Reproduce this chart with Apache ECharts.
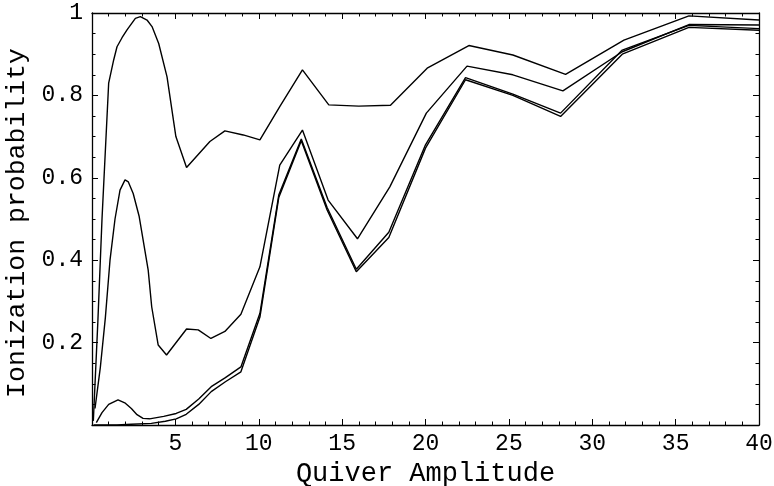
<!DOCTYPE html>
<html><head><meta charset="utf-8">
<script src="https://cdn.jsdelivr.net/npm/echarts@6/dist/echarts.min.js"></script>
<style>html,body{margin:0;padding:0;background:#fff}#c{width:774px;height:486px}</style>
</head><body><div id="c"></div>
<script>
// Curve 1 (top)
const x1 = [0.08, 0.35, 0.6, 1.0, 1.3, 1.5, 1.8, 2.1, 2.6, 2.9, 3.3, 3.6, 4.0, 4.5, 5.03, 5.67, 7.07, 7.97, 9.07, 10.07, 11.26, 12.62, 14.2, 16.0, 17.9, 20.1, 22.6, 25.24, 28.4, 31.9, 35.8, 40];
const y1 = [0.01, 0.25, 0.50, 0.83, 0.886, 0.918, 0.94, 0.959, 0.987, 0.991, 0.983, 0.967, 0.926, 0.845, 0.70, 0.625, 0.688, 0.714, 0.704, 0.692, 0.773, 0.862, 0.777, 0.774, 0.776, 0.866, 0.921, 0.898, 0.851, 0.934, 0.993, 0.983];
// Curve 2
const x2 = [0.18, 0.5, 0.8, 1.08, 1.38, 1.68, 1.98, 2.18, 2.47, 2.83, 3.37, 3.58, 3.97, 4.47, 5.67, 6.37, 7.13, 7.97, 8.93, 10.07, 11.26, 12.62, 14.16, 15.92, 17.86, 20.05, 22.49, 25.24, 28.24, 31.8, 35.8, 40];
const y2 = [0.04, 0.14, 0.26, 0.40, 0.50, 0.57, 0.595, 0.59, 0.562, 0.506, 0.376, 0.287, 0.194, 0.170, 0.233, 0.231, 0.210, 0.227, 0.269, 0.384, 0.631, 0.716, 0.546, 0.452, 0.578, 0.757, 0.871, 0.850, 0.811, 0.906, 0.972, 0.971];
// Curve 3
const x3 = [0.26, 0.6, 1.0, 1.56, 2.0, 2.36, 2.7, 3.06, 3.45, 4.3, 5.05, 5.65, 6.4, 7.15, 8.0, 8.93, 10.07, 11.2, 12.55, 14.1, 15.85, 17.8, 20.0, 22.4, 25.24, 28.1, 31.8, 35.8, 40];
const y3 = [0.006, 0.03, 0.05, 0.061, 0.053, 0.04, 0.025, 0.016, 0.015, 0.021, 0.028, 0.038, 0.063, 0.093, 0.115, 0.141, 0.271, 0.558, 0.694, 0.528, 0.378, 0.468, 0.68, 0.843, 0.803, 0.757, 0.91, 0.97, 0.962];
// Curve 4
const x4 = [0.1, 1.5, 2.36, 3.56, 4.4, 5.05, 5.65, 6.4, 7.15, 8.0, 8.93, 10.07, 11.2, 12.55, 14.1, 15.85, 17.8, 20.0, 22.4, 25.24, 28.1, 31.8, 35.8, 40];
const y4 = [0.0, 0.0, 0.002, 0.004, 0.009, 0.015, 0.026, 0.05, 0.081, 0.105, 0.129, 0.262, 0.552, 0.690, 0.522, 0.372, 0.455, 0.672, 0.838, 0.80, 0.749, 0.90, 0.965, 0.958];

const xTickLabels = ['5','10','15','20','25','30','35','40'];
const yTickLabels = ['0.2','0.4','0.6','0.8','1'];
const xTitle = 'Quiver Amplitude';
const yTitle = 'Ionization probability';

const FONT = 'Liberation Mono';
const pairs = (xs, ys) => xs.map((x, i) => [x, ys[i]]);

const axisCommon = {
  axisLine: {show: true, onZero: false, lineStyle: {color: '#000', width: 1.3}},
  axisTick: {show: true, inside: true, length: 6, lineStyle: {color: '#000', width: 1}},
  splitLine: {show: false}
};
const minorX = {show: true, splitNumber: 5, length: 3.5, lineStyle: {color: '#000', width: 1}};
const minorY = {show: true, splitNumber: 4, length: 3.5, lineStyle: {color: '#000', width: 1}};
const xFmt = v => { const s = String(Math.round(v)); return xTickLabels.includes(s) ? s : ''; };
const yFmt = v => { const s = Math.abs(v - 1) < 1e-9 ? '1' : v.toFixed(1); return yTickLabels.includes(s) ? s : ''; };

const chart = echarts.init(document.getElementById('c'), null, {renderer: 'canvas'});
chart.setOption({
  animation: false,
  backgroundColor: '#fff',
  grid: {left: 92, right: 15, top: 13, bottom: 61, containLabel: false, outerBoundsMode: 'none'},
  xAxis: [
    Object.assign({type: 'value', min: 0, max: 40, interval: 5, position: 'bottom',
      axisLabel: {formatter: xFmt, color: '#000', fontFamily: FONT, fontSize: 23, margin: 7},
      name: xTitle, nameLocation: 'middle', nameGap: 24,
      nameTextStyle: {color: '#000', fontFamily: FONT, fontSize: 27}}, axisCommon, {minorTick: minorX}),
    Object.assign({type: 'value', min: 0, max: 40, interval: 5, position: 'top',
      axisLabel: {show: false}}, axisCommon, {minorTick: minorX})
  ],
  yAxis: [
    Object.assign({type: 'value', min: 0, max: 1, interval: 0.2, position: 'left',
      axisLabel: {formatter: yFmt, color: '#000', fontFamily: FONT, fontSize: 23, margin: 9},
      name: yTitle, nameLocation: 'middle', nameGap: 54, nameRotate: 90,
      nameTextStyle: {color: '#000', fontFamily: FONT, fontSize: 26.5, padding: [0, 8, 0, 0]}}, axisCommon, {minorTick: minorY}),
    Object.assign({type: 'value', min: 0, max: 1, interval: 0.2, position: 'right',
      axisLabel: {show: false}}, axisCommon, {minorTick: minorY})
  ],
  series: [
    {type: 'line', data: pairs(x1, y1)},
    {type: 'line', data: pairs(x2, y2)},
    {type: 'line', data: pairs(x3, y3)},
    {type: 'line', data: pairs(x4, y4)}
  ].map(s => Object.assign(s, {xAxisIndex: 0, yAxisIndex: 0, showSymbol: false, symbol: 'none',
    lineStyle: {color: '#000', width: 1.4}, clip: true, silent: true}))
});
</script>
</body></html>
